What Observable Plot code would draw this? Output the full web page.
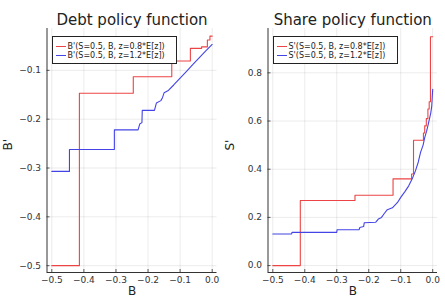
<!DOCTYPE html>
<html><head><meta charset="utf-8">
<script src="https://cdn.jsdelivr.net/npm/d3@7"></script>
<script src="https://cdn.jsdelivr.net/npm/@observablehq/plot@0.6"></script>
<style>
body{margin:0;background:#fff;font-family:"DejaVu Sans",sans-serif;}
#wrap{position:relative;width:445px;height:300px;overflow:hidden;}
.panel{position:absolute;top:0;}
.legend{position:absolute;background:#fff;border:1px solid #222;box-sizing:border-box;font-size:8px;color:#222;}
.legend .row{position:absolute;left:3px;height:10px;display:flex;align-items:center;white-space:nowrap;}
.legend .sw{display:inline-block;width:10px;height:0;border-top:1.4px solid;margin-right:2px;}
</style></head>
<body><div id="wrap"></div>
<script>
// ---- data ----
const xTicks = [-0.5, -0.4, -0.3, -0.2, -0.1, 0.0];
const debtYTicks = [-0.5, -0.4, -0.3, -0.2, -0.1];
const shareYTicks = [0.0, 0.2, 0.4, 0.6, 0.8];

// Debt policy, z = 0.8*E[z] (red)
const debtLowB = [-0.5, -0.414, -0.414, -0.246, -0.246, -0.126, -0.126, -0.068, -0.068, -0.033, -0.033, -0.015, -0.015, -0.007, -0.007, 0.0];
const debtLowY = [-0.5, -0.5, -0.147, -0.147, -0.113, -0.113, -0.081, -0.081, -0.055, -0.055, -0.052, -0.052, -0.038, -0.038, -0.030, -0.030];
// Debt policy, z = 1.2*E[z] (blue)
const debtHighB = [-0.5, -0.445, -0.445, -0.305, -0.305, -0.231, -0.226, -0.219, -0.218, -0.180, -0.174, -0.160, -0.155, -0.150, -0.138, -0.12, -0.10, -0.08, -0.06, -0.04, -0.02, 0.0];
const debtHighY = [-0.307, -0.307, -0.262, -0.262, -0.222, -0.222, -0.210, -0.207, -0.182, -0.182, -0.167, -0.162, -0.156, -0.146, -0.142, -0.130, -0.116, -0.102, -0.088, -0.074, -0.060, -0.047];

// Share policy, z = 0.8*E[z] (red)
const shareLowB = [-0.5, -0.414, -0.414, -0.243, -0.243, -0.124, -0.124, -0.066, -0.066, -0.060, -0.060, -0.029, -0.029, -0.025, -0.025, -0.020, -0.020, -0.015, -0.015, -0.011, -0.011, -0.007, -0.007, 0.0];
const shareLowY = [0.0, 0.0, 0.27, 0.27, 0.292, 0.292, 0.36, 0.36, 0.38, 0.38, 0.52, 0.52, 0.55, 0.55, 0.58, 0.58, 0.61, 0.61, 0.65, 0.65, 0.68, 0.68, 0.95, 0.95];
// Share policy, z = 1.2*E[z] (blue)
const shareHighB = [-0.5, -0.441, -0.440, -0.300, -0.299, -0.230, -0.228, -0.216, -0.214, -0.178, -0.170, -0.160, -0.152, -0.142, -0.126, -0.110, -0.100, -0.088, -0.075, -0.064, -0.054, -0.045, -0.038, -0.030, -0.025, -0.019, -0.014, -0.010, -0.006, -0.003, 0.0];
const shareHighY = [0.131, 0.131, 0.138, 0.138, 0.149, 0.149, 0.158, 0.162, 0.178, 0.180, 0.193, 0.200, 0.215, 0.232, 0.240, 0.262, 0.283, 0.305, 0.331, 0.360, 0.393, 0.430, 0.470, 0.500, 0.531, 0.558, 0.586, 0.610, 0.634, 0.662, 0.732];

const redColor = "#ec4444";
const blueColor = "#4444e6";
const fmt = d => d.toFixed(1).replace("-", "\u2212");

function series(bs, ys) { return bs.map((b, i) => ({B: b, y: ys[i]})); }

function panel({left, width, mL, mR, yDomain, yTicks, title, ylabel, s1, s2}) {
  const xDomain = [-0.515, 0.015];
  const chart = Plot.plot({
    width, height: 300,
    marginLeft: mL, marginRight: mR, marginTop: 28, marginBottom: 28,
    style: {fontFamily: "DejaVu Sans, sans-serif", fontSize: "9px", color: "#333", background: "transparent"},
    x: {type: "linear", domain: xDomain},
    y: {type: "linear", domain: yDomain},
    marks: [
      Plot.gridX(xTicks, {stroke: "#000", strokeOpacity: 0.08}),
      Plot.gridY(yTicks, {stroke: "#000", strokeOpacity: 0.08}),
      Plot.axisX({ticks: xTicks, tickFormat: fmt, tickSize: 0, tickPadding: 4, label: null, fill: "#333"}),
      Plot.axisY({ticks: yTicks, tickFormat: fmt, tickSize: 0, tickPadding: 6, label: null, fill: "#333"}),
      Plot.ruleX(xTicks, {x: d => d, y1: yDomain[0], y2: yDomain[0], insetTop: -3, stroke: "#333", strokeWidth: 0.8}),
      Plot.ruleY(yTicks, {y: d => d, x1: xDomain[0], x2: xDomain[0], insetRight: -3, stroke: "#333", strokeWidth: 0.8}),
      Plot.ruleX([xDomain[0]], {stroke: "#333", strokeWidth: 1}),
      Plot.ruleY([yDomain[0]], {stroke: "#333", strokeWidth: 1}),
      Plot.line(s1, {x: "B", y: "y", stroke: redColor, strokeWidth: 1.1}),
      Plot.line(s2, {x: "B", y: "y", stroke: blueColor, strokeWidth: 1.1}),
      Plot.text([title], {frameAnchor: "top", dy: -14, fontSize: 15, fill: "#222", text: d => d}),
      Plot.text(["B"], {frameAnchor: "bottom", dy: 22, fontSize: 12, fill: "#222", text: d => d}),
      Plot.text([ylabel], {frameAnchor: "left", dx: -(mL - 8), rotate: -90, fontSize: 12, fill: "#222", text: d => d})
    ]
  });
  chart.classList.add("panel");
  chart.style.left = left + "px";
  chart.style.overflow = "visible";
  return chart;
}

const wrap = document.getElementById("wrap");
wrap.appendChild(panel({left: 0, width: 222, mL: 46.5, mR: 5.5,
  yDomain: [-0.514, -0.0143], yTicks: debtYTicks,
  title: "Debt policy function", ylabel: "B'",
  s1: series(debtLowB, debtLowY), s2: series(debtHighB, debtHighY)}));
wrap.appendChild(panel({left: 222, width: 223, mL: 45.5, mR: 8,
  yDomain: [-0.0287, 0.984], yTicks: shareYTicks,
  title: "Share policy function", ylabel: "S'",
  s1: series(shareLowB, shareLowY), s2: series(shareHighB, shareHighY)}));

function legend(left, labels) {
  const d = document.createElement("div");
  d.className = "legend";
  Object.assign(d.style, {left: left + "px", top: "36px", width: "125px", height: "28px"});
  [[labels[0], redColor, 4], [labels[1], blueColor, 13]].forEach(([t, c, top]) => {
    const r = document.createElement("div");
    r.className = "row"; r.style.top = top + "px";
    const sw = document.createElement("span"); sw.className = "sw"; sw.style.borderTopColor = c;
    const tx = document.createElement("span"); tx.textContent = t;
    r.appendChild(sw); r.appendChild(tx); d.appendChild(r);
  });
  wrap.appendChild(d);
}
legend(51.5, ["B'(S=0.5, B, z=0.8*E[z])", "B'(S=0.5, B, z=1.2*E[z])"]);
legend(272.5, ["S'(S=0.5, B, z=0.8*E[z])", "S'(S=0.5, B, z=1.2*E[z])"]);
</script></body></html>
